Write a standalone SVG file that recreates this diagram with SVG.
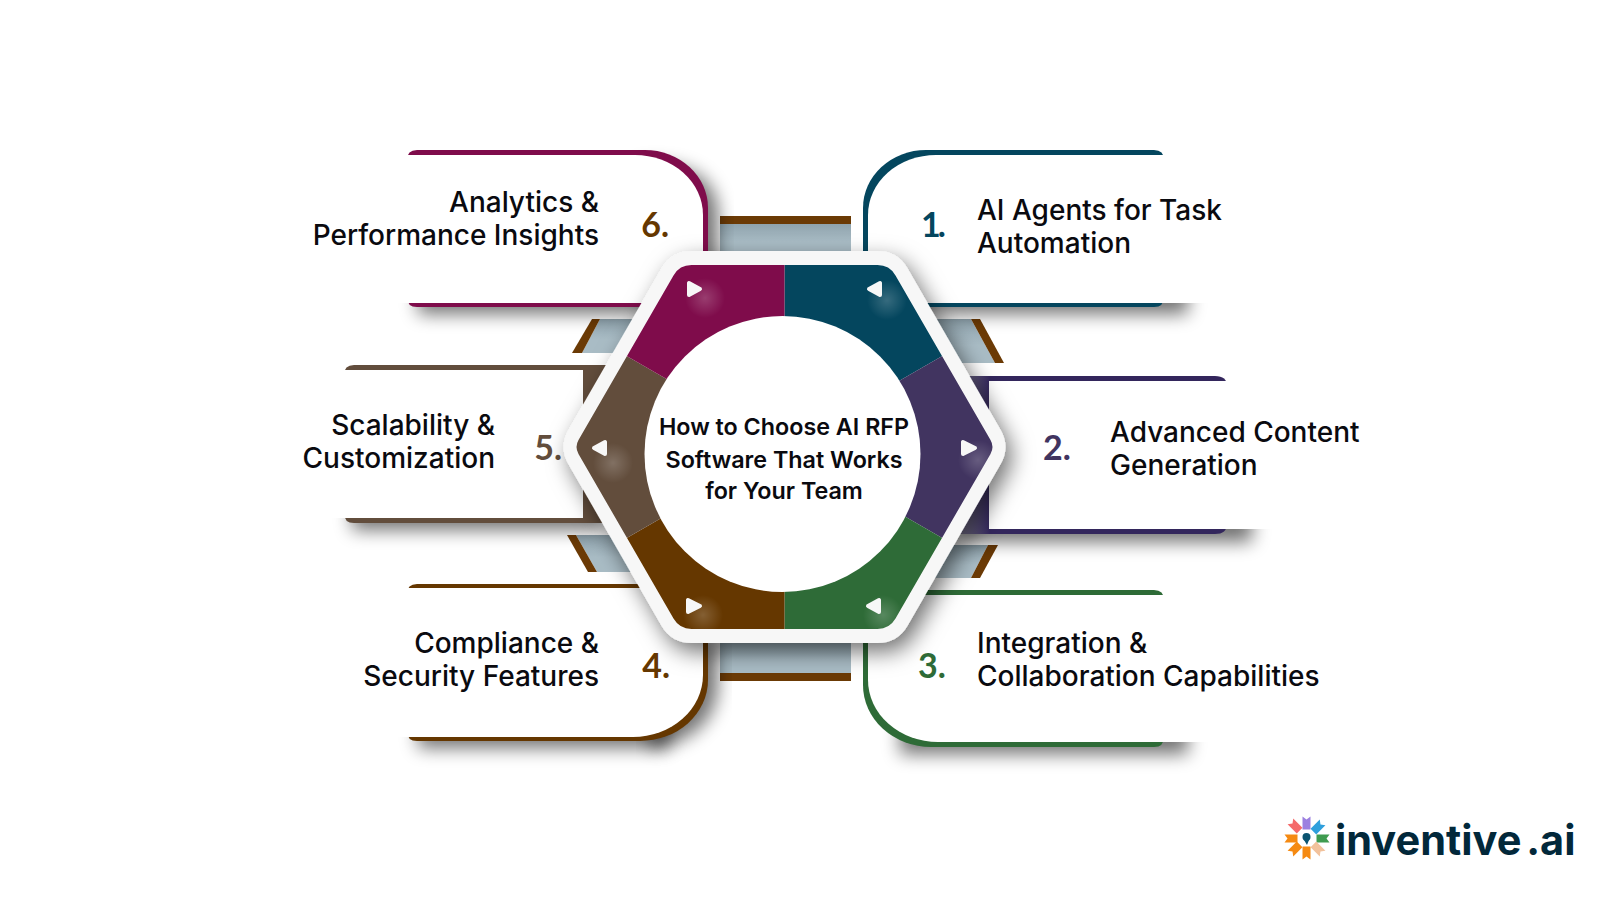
<svg xmlns="http://www.w3.org/2000/svg" width="1600" height="900" viewBox="0 0 1600 900">
<style>
text{font-family:"Inter","Liberation Sans",sans-serif}
.t{font-size:28px;font-weight:550;fill:#0a0a0f}
.r{text-anchor:end}
.n{font-family:"Lato","Liberation Sans",sans-serif;font-size:34px;font-weight:700}
.c{font-size:23.3px;font-weight:600;fill:#0a0a0f;text-anchor:middle}
.w{fill:#fff}
.s{fill:#000;opacity:.55;filter:url(#bl)}
.b{fill:url(#bg)}
.bar{fill:#6b3a05}
.tri{fill:#f7f7f7;stroke:#f7f7f7;stroke-width:4;stroke-linejoin:round}
.g{fill:url(#gl)}
</style>
<defs>
<filter id="bl" x="-20%" y="-60%" width="140%" height="220%"><feGaussianBlur stdDeviation="9"/></filter>
<filter id="hs" x="-20%" y="-20%" width="140%" height="140%"><feDropShadow dx="6" dy="9" stdDeviation="11" flood-color="#000" flood-opacity=".55"/></filter>
<linearGradient id="bg" x1="0" y1="0" x2="0" y2="1"><stop offset="0" stop-color="#8fa3ad"/><stop offset=".6" stop-color="#a9bcc5"/></linearGradient>
<linearGradient id="pg" gradientUnits="userSpaceOnUse" x1="955" y1="0" x2="990" y2="0"><stop offset="0" stop-color="#8d8a9c"/><stop offset="1" stop-color="#33265c"/></linearGradient>
<radialGradient id="gl"><stop offset="0" stop-color="#fff" stop-opacity=".2"/><stop offset="1" stop-color="#fff" stop-opacity="0"/></radialGradient>
<clipPath id="hx"><path d="M691.5,265H877.5Q889.5,265 895.5,275.4L990.5,440.1Q994.5,447 990.5,453.9L895.5,618.6Q889.5,629 877.5,629H691.5Q679.5,629 673.5,618.6L578.5,453.9Q574.5,447 578.5,440.1L673.5,275.4Q679.5,265 691.5,265Z"/></clipPath>
<polygon id="rib" points="-4,-6.5 4,-6.5 4,6.5 0,3.5 -4,6.5"/>
</defs>
<rect width="1600" height="900" fill="#fff"/>

<g id="connectors">
<rect class="b" x="720" y="224" width="131" height="30"/><rect class="bar" x="720" y="216" width="131" height="8"/>
<rect class="b" x="720" y="640" width="131" height="33"/><rect class="bar" x="720" y="673" width="131" height="8"/>
<polygon class="b" points="600,319 650,319 630,353 582,353"/><polygon class="bar" points="592,319 600,319 582,353 572,353"/>
<polygon class="b" points="920,319 971,319 995,363 945,363"/><polygon class="bar" points="971,319 980,319 1004,363 995,363"/>
<polygon class="b" points="576,535 640,535 650,572 597,572"/><polygon class="bar" points="567,535 576,535 597,572 588,572"/>
<polygon class="b" points="930,545 988,545 971,578 930,578"/><polygon class="bar" points="988,545 998,545 980,578 971,578"/>
</g>

<g id="node-6">
<rect class="s" x="418" y="282" width="290" height="32"/><path class="s" d="M640,165H665Q718,170 718,218V300H640Z"/>
<path fill="#7f0c4b" d="M407,160Q407,150 417,150H645A63,58 0 0 1 708,208V307H417Q407,307 407,297Z"/>
<path class="w" d="M340,155H635A68,60 0 0 1 703,215V303H340Z"/>
<text class="t r" x="599"><tspan x="599" y="212">Analytics &amp;</tspan><tspan x="599" y="245">Performance Insights</tspan></text>
<text class="n r" x="669" y="237" fill="#653700">6.</text>
</g>
<g id="node-1">
<rect class="s" x="900" y="282" width="288" height="32"/>
<path fill="#04465e" d="M1164,160Q1164,150 1154,150H926A63,58 0 0 0 863,208V307H1154Q1164,307 1164,297Z"/>
<path class="w" d="M1260,155H936A68,60 0 0 0 868,215V303H1260Z"/>
<text class="t"><tspan x="977" y="220">AI Agents for Task</tspan><tspan x="977" y="253">Automation</tspan></text>
<text class="n" x="921" y="237" fill="#04465e" letter-spacing="-3">1.</text>
</g>
<g id="node-5">
<rect class="s" x="352" y="498" width="250" height="32"/>
<path fill="#624d3c" d="M344,375Q344,365 354,365H610V523H354Q344,523 344,513Z"/>
<path class="w" d="M280,370H583V518H280Z"/>
<text class="t r"><tspan x="495" y="435">Scalability &amp;</tspan><tspan x="495" y="468">Customization</tspan></text>
<text class="n r" x="562" y="460" fill="#624d3c">5.</text>
</g>
<g id="node-2">
<rect class="s" x="960" y="510" width="292" height="32"/>
<path fill="url(#pg)" d="M955,376H1215Q1227,376 1227,386V524Q1227,534 1215,534H955Z"/>
<path class="w" d="M989,381H1320V529H989Z"/>
<text class="t"><tspan x="1110" y="442">Advanced Content</tspan><tspan x="1110" y="475">Generation</tspan></text>
<text class="n" x="1043" y="460" fill="#413460">2.</text>
</g>
<g id="node-4">
<rect class="s" x="418" y="716" width="250" height="32"/><path class="s" d="M650,640H718V680Q718,738 650,748Z"/>
<path fill="#653700" d="M407,594Q407,584 417,584H708V680A68,61 0 0 1 640,741H417Q407,741 407,731Z"/>
<path class="w" d="M340,588H703V675A70,62 0 0 1 633,737H340Z"/>
<text class="t r"><tspan x="599" y="653">Compliance &amp;</tspan><tspan x="599" y="686">Security Features</tspan></text>
<text class="n r" x="670" y="678" fill="#653700">4.</text>
</g>
<g id="node-3">
<rect class="s" x="900" y="722" width="288" height="32"/>
<path fill="#2e6b37" d="M1164,600Q1164,590 1154,590H863V685A68,62 0 0 0 931,747H1154Q1164,747 1164,737Z"/>
<path class="w" d="M1260,595H868V680A70,62 0 0 0 938,742H1260Z"/>
<text class="t"><tspan x="977" y="653">Integration &amp;</tspan><tspan x="977" y="686">Collaboration Capabilities</tspan></text>
<text class="n" x="918" y="678" fill="#2e6b37">3.</text>
</g>

<g id="hub">
<path fill="#f7f7f7" filter="url(#hs)" d="M691.5,251H877.5Q897.5,251 907.5,268.3L1000.5,429.7Q1010.5,447 1000.5,464.3L907.5,625.7Q897.5,643 877.5,643H691.5Q671.5,643 661.5,625.7L568.5,464.3Q558.5,447 568.5,429.7L661.5,268.3Q671.5,251 691.5,251Z"/>
<g clip-path="url(#hx)">
<polygon fill="#04465e" points="784.5,447 784.5,150 1100,150 1044.5,297"/>
<polygon fill="#413460" points="784.5,447 1044.5,297 1100,447 1044.5,597"/>
<polygon fill="#2e6b37" points="784.5,447 1044.5,597 1100,750 784.5,750"/>
<polygon fill="#653700" points="784.5,447 784.5,750 470,750 524.5,597"/>
<polygon fill="#624d3c" points="784.5,447 524.5,597 470,447 524.5,297"/>
<polygon fill="#7f0c4b" points="784.5,447 524.5,297 470,150 784.5,150"/>
<circle class="g" cx="705" cy="298" r="20"/><circle class="g" cx="887" cy="300" r="20"/><circle class="g" cx="978" cy="460" r="20"/><circle class="g" cx="613" cy="463" r="20"/><circle class="g" cx="703" cy="615" r="20"/><circle class="g" cx="883" cy="615" r="20"/>
</g>
<polygon class="tri" points="689,283 689,295 700,289"/>
<polygon class="tri" points="880,283 880,295 869,289"/>
<polygon class="tri" points="963,442 963,454 975,448"/>
<polygon class="tri" points="605,442 605,454 594,448"/>
<polygon class="tri" points="688,600 688,612 700,606"/>
<polygon class="tri" points="879,600 879,612 868,606"/>
<circle class="w" cx="782.5" cy="454" r="138"/>
<text class="c"><tspan x="784" y="435">How to Choose AI RFP</tspan><tspan x="784" y="468">Software That Works</tspan><tspan x="784" y="499">for Your Team</tspan></text>
</g>

<g id="logo">
<use href="#rib" transform="translate(1306.5,823) rotate(180)" fill="#9c80e0"/>
<use href="#rib" transform="translate(1318,827) rotate(225)" fill="#2f9fdc"/>
<use href="#rib" transform="translate(1323,838.5) rotate(270)" fill="#3f9b50"/>
<use href="#rib" transform="translate(1318,849) rotate(315)" fill="#f2c29c"/>
<use href="#rib" transform="translate(1306.5,853)" fill="#f58a12"/>
<use href="#rib" transform="translate(1295,849) rotate(45)" fill="#f58a12"/>
<use href="#rib" transform="translate(1291,838.5) rotate(90)" fill="#f58a12"/>
<use href="#rib" transform="translate(1295,826) rotate(135)" fill="#f56a6a"/>
<circle cx="1306.5" cy="837" r="4" fill="#0b5470"/><path fill="#0b5470" d="M1304,840L1307,845L1309,840Z"/>
<text x="1335" y="855" font-size="41.5" font-weight="700" fill="#02283a" word-spacing="-5">inventive .ai</text>
</g>
</svg>
